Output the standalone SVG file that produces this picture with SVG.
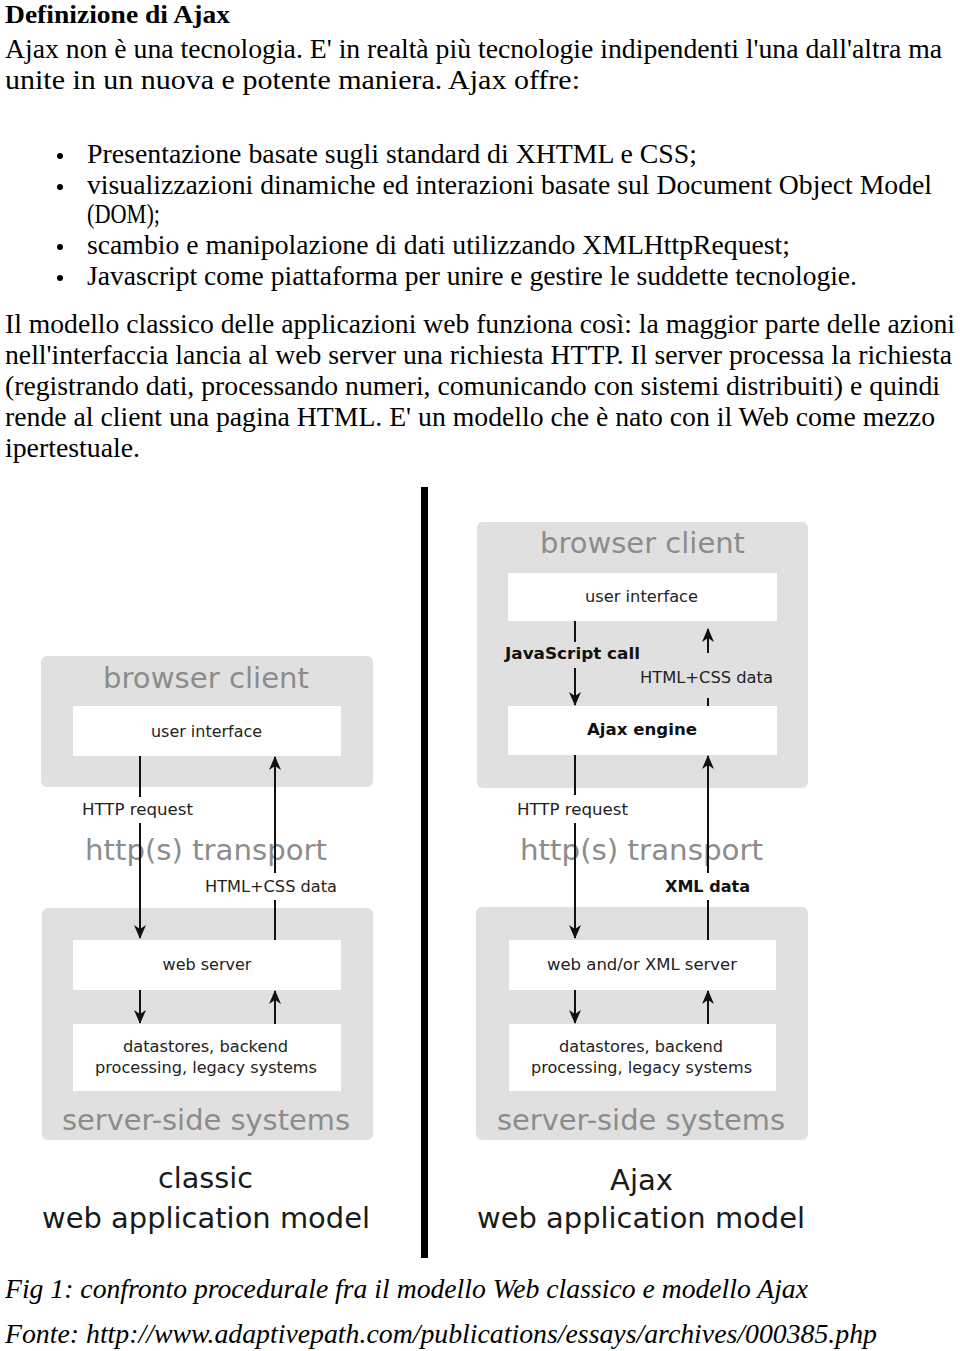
<svg xmlns="http://www.w3.org/2000/svg" width="960" height="1351" viewBox="0 0 960 1351">
<defs>
<marker id="ah" markerUnits="userSpaceOnUse" markerWidth="14" markerHeight="14" viewBox="0 0 14 14" refX="13" refY="7" orient="auto">
<path d="M0,1 L14,7 L0,13 L4,7 z" fill="#111"/>
</marker>
<style>
.body{font-family:"Liberation Serif",serif;font-size:27px;fill:#000}
.ital{font-family:"Liberation Serif",serif;font-size:27px;font-style:italic;fill:#000}
.grp{fill:#e0e0e0}
.inner{fill:#fff}
.big{font-family:"DejaVu Sans",Verdana,sans-serif;font-size:29px;fill:#8c8c8c}
.lbl{font-family:"DejaVu Sans",Verdana,sans-serif;font-size:16px;fill:#222}
.lblb{font-family:"DejaVu Sans",Verdana,sans-serif;font-size:16px;font-weight:bold;fill:#111}
.ttl{font-family:"DejaVu Sans",Verdana,sans-serif;font-size:29px;fill:#1a1a1a}
.ln{stroke:#111;stroke-width:2;fill:none}
.arr{stroke:#111;stroke-width:2;fill:none;marker-end:url(#ah)}
</style>
</defs>
<rect width="960" height="1351" fill="#fff"/>

<g id="text-top">
<text x="5" y="23" style="font-family:'Liberation Serif',serif;font-size:25px;font-weight:bold" textLength="225" lengthAdjust="spacingAndGlyphs">Definizione di Ajax</text>
<text class="body" x="5" y="58" textLength="937" lengthAdjust="spacingAndGlyphs">Ajax non è una tecnologia. E' in realtà più tecnologie indipendenti l'una dall'altra ma</text>
<text class="body" x="5" y="89" textLength="575" lengthAdjust="spacingAndGlyphs">unite in un nuova e potente maniera. Ajax offre:</text>
<circle cx="60" cy="156" r="3"/>
<text class="body" x="87" y="163" textLength="610" lengthAdjust="spacingAndGlyphs">Presentazione basate sugli standard di XHTML e CSS;</text>
<circle cx="60" cy="187" r="3"/>
<text class="body" x="87" y="194" textLength="845" lengthAdjust="spacingAndGlyphs">visualizzazioni dinamiche ed interazioni basate sul Document Object Model</text>
<text class="body" x="87" y="223" textLength="73" lengthAdjust="spacingAndGlyphs">(DOM);</text>
<circle cx="60" cy="247" r="3"/>
<text class="body" x="87" y="254" textLength="703" lengthAdjust="spacingAndGlyphs">scambio e manipolazione di dati utilizzando XMLHttpRequest;</text>
<circle cx="60" cy="278" r="3"/>
<text class="body" x="87" y="285" textLength="770" lengthAdjust="spacingAndGlyphs">Javascript come piattaforma per unire e gestire le suddette tecnologie.</text>
<text class="body" x="5" y="333" textLength="950" lengthAdjust="spacingAndGlyphs">Il modello classico delle applicazioni web funziona così: la maggior parte delle azioni</text>
<text class="body" x="5" y="364" textLength="947" lengthAdjust="spacingAndGlyphs">nell'interfaccia lancia al web server una richiesta HTTP. Il server processa la richiesta</text>
<text class="body" x="5" y="395" textLength="935" lengthAdjust="spacingAndGlyphs">(registrando dati, processando numeri, comunicando con sistemi distribuiti) e quindi</text>
<text class="body" x="5" y="426" textLength="930" lengthAdjust="spacingAndGlyphs">rende al client una pagina HTML. E' un modello che è nato con il Web come mezzo</text>
<text class="body" x="5" y="457" textLength="135" lengthAdjust="spacingAndGlyphs">ipertestuale.</text>
</g>

<rect id="divider" x="421" y="487" width="7" height="771" fill="#000"/>

<g id="classic-browser">
<rect class="grp" x="41" y="656" width="332" height="131" rx="6"/>
<text class="big" x="103" y="688" textLength="206" lengthAdjust="spacingAndGlyphs">browser client</text>
</g>
<g id="classic-ui">
<rect class="inner" x="73" y="706" width="268" height="50"/>
<text class="lbl" x="151" y="737" textLength="111" lengthAdjust="spacingAndGlyphs">user interface</text>
</g>
<g id="classic-transport">
<text class="big" x="85" y="860" textLength="242" lengthAdjust="spacingAndGlyphs">http(s) transport</text>
</g>
<g id="classic-server">
<rect class="grp" x="42" y="908" width="331" height="232" rx="6"/>
<text class="big" x="62" y="1130" textLength="288" lengthAdjust="spacingAndGlyphs">server-side systems</text>
</g>
<g id="classic-webserver">
<rect class="inner" x="73" y="940" width="268" height="50"/>
<text class="lbl" x="207" y="970" text-anchor="middle">web server</text>
</g>
<g id="classic-datastores">
<rect class="inner" x="73" y="1024" width="268" height="67"/>
<text class="lbl" x="123" y="1052" textLength="165" lengthAdjust="spacingAndGlyphs">datastores, backend</text>
<text class="lbl" x="95" y="1073" textLength="222" lengthAdjust="spacingAndGlyphs">processing, legacy systems</text>
</g>
<g id="classic-title">
<text class="ttl" x="158" y="1188" textLength="95" lengthAdjust="spacingAndGlyphs">classic</text>
<text class="ttl" x="42" y="1228" textLength="328" lengthAdjust="spacingAndGlyphs">web application model</text>
</g>

<g id="ajax-browser">
<rect class="grp" x="477" y="522" width="331" height="266" rx="6"/>
<text class="big" x="540" y="553" textLength="205" lengthAdjust="spacingAndGlyphs">browser client</text>
</g>
<g id="ajax-ui">
<rect class="inner" x="508" y="573" width="269" height="48"/>
<text class="lbl" x="585" y="602" textLength="113" lengthAdjust="spacingAndGlyphs">user interface</text>
</g>
<g id="ajax-engine">
<rect class="inner" x="508" y="706" width="269" height="49"/>
<text class="lblb" x="587" y="735" textLength="110" lengthAdjust="spacingAndGlyphs">Ajax engine</text>
</g>
<g id="ajax-transport">
<text class="big" x="520" y="860" textLength="243" lengthAdjust="spacingAndGlyphs">http(s) transport</text>
</g>
<g id="ajax-server">
<rect class="grp" x="476" y="907" width="332" height="233" rx="6"/>
<text class="big" x="497" y="1130" textLength="288" lengthAdjust="spacingAndGlyphs">server-side systems</text>
</g>
<g id="ajax-webserver">
<rect class="inner" x="509" y="940" width="267" height="50"/>
<text class="lbl" x="547" y="970" textLength="190" lengthAdjust="spacingAndGlyphs">web and/or XML server</text>
</g>
<g id="ajax-datastores">
<rect class="inner" x="509" y="1024" width="267" height="67"/>
<text class="lbl" x="559" y="1052" textLength="164" lengthAdjust="spacingAndGlyphs">datastores, backend</text>
<text class="lbl" x="531" y="1073" textLength="221" lengthAdjust="spacingAndGlyphs">processing, legacy systems</text>
</g>
<g id="ajax-title">
<text class="ttl" x="610" y="1190" textLength="63" lengthAdjust="spacingAndGlyphs">Ajax</text>
<text class="ttl" x="477" y="1228" textLength="328" lengthAdjust="spacingAndGlyphs">web application model</text>
</g>

<g id="connectors">
<line class="ln" x1="140" y1="756" x2="140" y2="797"/>
<line class="arr" x1="140" y1="823" x2="140" y2="938"/>
<line class="ln" x1="275" y1="940" x2="275" y2="900"/>
<line class="arr" x1="275" y1="873" x2="275" y2="757"/>
<line class="arr" x1="140" y1="990" x2="140" y2="1023"/>
<line class="arr" x1="275" y1="1024" x2="275" y2="991"/>

<line class="ln" x1="575" y1="621" x2="575" y2="642"/>
<line class="arr" x1="575" y1="668" x2="575" y2="705"/>
<line class="ln" x1="708" y1="706" x2="708" y2="698"/>
<line class="arr" x1="708" y1="653" x2="708" y2="629"/>
<line class="ln" x1="575" y1="755" x2="575" y2="795"/>
<line class="arr" x1="575" y1="823" x2="575" y2="938"/>
<line class="ln" x1="708" y1="940" x2="708" y2="900"/>
<line class="arr" x1="708" y1="873" x2="708" y2="756"/>
<line class="arr" x1="575" y1="990" x2="575" y2="1023"/>
<line class="arr" x1="708" y1="1024" x2="708" y2="991"/>
</g>

<g id="labels">
<text class="lbl" x="82" y="815" textLength="111" lengthAdjust="spacingAndGlyphs">HTTP request</text>
<text class="lbl" x="205" y="892" textLength="132" lengthAdjust="spacingAndGlyphs">HTML+CSS data</text>
<text class="lblb" x="505" y="659" textLength="135" lengthAdjust="spacingAndGlyphs">JavaScript call</text>
<text class="lbl" x="640" y="683" textLength="133" lengthAdjust="spacingAndGlyphs">HTML+CSS data</text>
<text class="lbl" x="517" y="815" textLength="111" lengthAdjust="spacingAndGlyphs">HTTP request</text>
<text class="lblb" x="665" y="892" textLength="85" lengthAdjust="spacingAndGlyphs">XML data</text>
</g>

<g id="caption">
<text class="ital" x="5" y="1298" textLength="803" lengthAdjust="spacingAndGlyphs">Fig 1: confronto procedurale fra il modello Web classico e modello Ajax</text>
<text class="ital" x="5" y="1343" textLength="872" lengthAdjust="spacingAndGlyphs">Fonte: http://www.adaptivepath.com/publications/essays/archives/000385.php</text>
</g>
</svg>
